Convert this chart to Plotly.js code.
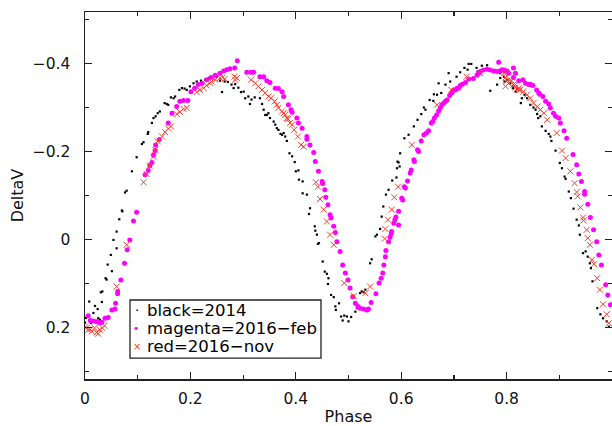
<!DOCTYPE html>
<html>
<head>
<meta charset="utf-8">
<script src="https://cdn.plot.ly/plotly-3.0.1.min.js"></script>
<style>html,body{margin:0;padding:0;background:#fff}#chart{width:612px;height:426px}</style>
</head>
<body>
<div id="chart"></div>
<script>
// black = 2014
const phase2014 = [0.000,0.002,0.008,0.011,0.016,0.019,0.024,0.025,0.028,0.030,0.032,0.033,0.039,0.041,0.043,0.049,0.051,0.054,0.060,0.060,0.065,0.070,0.071,0.076,0.079,0.089,0.098,0.108,0.111,0.119,0.120,0.127,0.130,0.134,0.138,0.142,0.151,0.155,0.158,0.163,0.168,0.171,0.179,0.184,0.189,0.193,0.199,0.206,0.212,0.220,0.228,0.235,0.241,0.246,0.250,0.256,0.260,0.265,0.271,0.278,0.282,0.285,0.291,0.296,0.301,0.304,0.310,0.313,0.316,0.322,0.332,0.336,0.339,0.342,0.345,0.348,0.351,0.358,0.361,0.364,0.367,0.371,0.374,0.377,0.380,0.383,0.388,0.393,0.398,0.400,0.405,0.406,0.413,0.413,0.421,0.425,0.427,0.436,0.437,0.440,0.442,0.444,0.451,0.455,0.459,0.461,0.462,0.467,0.472,0.475,0.476,0.482,0.486,0.489,0.492,0.497,0.500,0.505,0.513,0.516,0.522,0.525,0.529,0.532,0.541,0.544,0.551,0.554,0.560,0.563,0.566,0.571,0.576,0.583,0.591,0.592,0.593,0.595,0.597,0.598,0.606,0.614,0.624,0.631,0.638,0.643,0.646,0.654,0.661,0.662,0.668,0.671,0.676,0.684,0.690,0.693,0.705,0.712,0.720,0.726,0.728,0.733,0.743,0.745,0.753,0.763,0.769,0.782,0.788,0.788,0.795,0.796,0.801,0.807,0.812,0.813,0.817,0.820,0.827,0.829,0.834,0.839,0.845,0.851,0.855,0.858,0.860,0.864,0.867,0.874,0.880,0.883,0.885,0.893,0.901,0.905,0.910,0.912,0.918,0.922,0.927,0.933,0.937,0.939,0.945,0.950,0.954,0.958,0.960,0.963,0.972,0.978,0.983,0.990,0.994];
const dv2014 = [0.189,0.178,0.141,0.190,0.167,0.151,0.158,0.179,0.182,0.120,0.142,0.118,0.088,0.091,0.057,0.035,0.072,0.001,0.020,-0.018,-0.046,-0.066,-0.064,-0.107,-0.111,-0.155,-0.187,-0.217,-0.221,-0.240,-0.244,-0.265,-0.276,-0.280,-0.287,-0.291,-0.310,-0.308,-0.306,-0.323,-0.321,-0.325,-0.340,-0.344,-0.343,-0.340,-0.348,-0.355,-0.359,-0.361,-0.363,-0.367,-0.368,-0.373,-0.370,-0.361,-0.335,-0.359,-0.358,-0.352,-0.344,-0.353,-0.345,-0.335,-0.336,-0.321,-0.325,-0.308,-0.318,-0.323,-0.321,-0.308,-0.295,-0.283,-0.283,-0.287,-0.276,-0.268,-0.261,-0.253,-0.249,-0.240,-0.238,-0.242,-0.234,-0.224,-0.196,-0.189,-0.176,-0.155,-0.157,-0.136,-0.132,-0.105,-0.102,-0.058,-0.071,-0.030,-0.020,-0.011,0.010,0.008,0.050,0.073,0.078,0.101,0.088,0.126,0.131,0.152,0.160,0.145,0.175,0.184,0.173,0.175,0.186,0.176,0.164,0.156,0.122,0.118,0.120,0.114,0.054,0.045,-0.007,-0.011,-0.024,-0.052,-0.075,-0.102,-0.113,-0.134,-0.141,-0.162,-0.177,-0.175,-0.166,-0.196,-0.230,-0.238,-0.257,-0.272,-0.285,-0.300,-0.295,-0.317,-0.315,-0.330,-0.329,-0.355,-0.333,-0.352,-0.378,-0.359,-0.370,-0.380,-0.390,-0.386,-0.399,-0.399,-0.390,-0.382,-0.395,-0.396,-0.338,-0.352,-0.378,-0.367,-0.370,-0.359,-0.363,-0.355,-0.344,-0.348,-0.336,-0.342,-0.310,-0.321,-0.329,-0.321,-0.306,-0.300,-0.295,-0.285,-0.276,-0.280,-0.257,-0.247,-0.240,-0.234,-0.224,-0.202,-0.174,-0.162,-0.143,-0.138,-0.109,-0.094,-0.070,-0.045,-0.032,-0.011,0.031,0.027,0.039,0.054,0.065,0.095,0.156,0.170,0.179,0.186,0.198];

// magenta = 2016-feb
const phaseFeb = [0.006,0.010,0.016,0.022,0.028,0.032,0.038,0.044,0.051,0.057,0.058,0.062,0.062,0.068,0.075,0.080,0.085,0.092,0.098,0.114,0.120,0.123,0.127,0.130,0.133,0.134,0.141,0.158,0.165,0.174,0.180,0.187,0.195,0.201,0.208,0.215,0.222,0.231,0.239,0.247,0.256,0.263,0.269,0.275,0.284,0.289,0.307,0.315,0.320,0.332,0.339,0.345,0.351,0.361,0.367,0.374,0.377,0.386,0.391,0.393,0.402,0.405,0.412,0.421,0.421,0.427,0.434,0.437,0.443,0.450,0.451,0.455,0.457,0.461,0.465,0.467,0.472,0.475,0.478,0.484,0.489,0.494,0.499,0.503,0.508,0.513,0.518,0.522,0.529,0.535,0.538,0.543,0.552,0.558,0.562,0.565,0.567,0.570,0.571,0.576,0.579,0.581,0.582,0.586,0.588,0.590,0.595,0.595,0.601,0.603,0.606,0.608,0.612,0.617,0.619,0.624,0.625,0.631,0.633,0.638,0.643,0.648,0.652,0.657,0.660,0.663,0.667,0.671,0.674,0.677,0.681,0.684,0.687,0.692,0.696,0.699,0.703,0.706,0.709,0.712,0.716,0.722,0.728,0.737,0.744,0.747,0.750,0.756,0.763,0.769,0.776,0.782,0.785,0.788,0.791,0.795,0.798,0.801,0.804,0.813,0.813,0.817,0.823,0.831,0.836,0.842,0.845,0.850,0.857,0.861,0.863,0.869,0.874,0.880,0.883,0.889,0.893,0.899,0.902,0.909,0.914,0.926,0.933,0.937,0.942,0.948,0.948,0.954,0.959,0.965,0.971,0.975,0.980,0.988,0.992,0.997];
const dvFeb = [0.173,0.184,0.185,0.187,0.189,0.188,0.179,0.177,0.160,0.158,0.145,0.118,0.123,0.092,0.054,0.023,0.001,-0.042,-0.062,-0.147,-0.157,-0.168,-0.175,-0.192,-0.202,-0.215,-0.227,-0.265,-0.287,-0.302,-0.314,-0.316,-0.316,-0.336,-0.344,-0.352,-0.355,-0.363,-0.368,-0.373,-0.378,-0.383,-0.386,-0.388,-0.390,-0.406,-0.380,-0.380,-0.380,-0.370,-0.370,-0.361,-0.357,-0.344,-0.343,-0.336,-0.325,-0.306,-0.295,-0.289,-0.276,-0.265,-0.253,-0.234,-0.228,-0.215,-0.198,-0.177,-0.155,-0.132,-0.127,-0.113,-0.096,-0.079,-0.056,-0.049,-0.030,-0.016,0.005,0.027,0.058,0.076,0.092,0.110,0.130,0.145,0.152,0.156,0.158,0.160,0.158,0.143,0.123,0.099,0.088,0.076,0.058,0.039,0.025,0.005,-0.005,-0.013,-0.018,-0.037,-0.045,-0.051,-0.033,-0.064,-0.094,-0.090,-0.120,-0.117,-0.133,-0.151,-0.158,-0.181,-0.177,-0.204,-0.200,-0.224,-0.238,-0.242,-0.247,-0.265,-0.268,-0.276,-0.283,-0.292,-0.299,-0.306,-0.310,-0.314,-0.317,-0.327,-0.333,-0.339,-0.340,-0.344,-0.344,-0.350,-0.353,-0.357,-0.365,-0.366,-0.374,-0.378,-0.382,-0.385,-0.387,-0.385,-0.383,-0.382,-0.403,-0.383,-0.386,-0.385,-0.383,-0.383,-0.378,-0.390,-0.368,-0.378,-0.361,-0.363,-0.355,-0.352,-0.353,-0.350,-0.340,-0.333,-0.330,-0.325,-0.314,-0.308,-0.299,-0.287,-0.280,-0.276,-0.265,-0.247,-0.230,-0.193,-0.170,-0.149,-0.132,-0.109,-0.103,-0.080,-0.050,-0.022,0.005,0.035,0.058,0.103,0.126,0.148];

// red = 2016-nov
const phaseNov = [0.000,0.003,0.006,0.010,0.013,0.018,0.022,0.025,0.028,0.033,0.037,0.060,0.079,0.111,0.117,0.123,0.130,0.133,0.138,0.146,0.152,0.158,0.163,0.174,0.180,0.187,0.193,0.212,0.218,0.225,0.231,0.237,0.240,0.247,0.256,0.261,0.265,0.284,0.285,0.288,0.315,0.323,0.329,0.336,0.342,0.348,0.353,0.360,0.364,0.367,0.374,0.377,0.380,0.383,0.385,0.389,0.393,0.397,0.404,0.410,0.415,0.438,0.442,0.446,0.453,0.459,0.465,0.472,0.492,0.510,0.532,0.541,0.569,0.570,0.575,0.582,0.587,0.594,0.620,0.668,0.695,0.724,0.750,0.795,0.798,0.798,0.801,0.804,0.807,0.808,0.813,0.817,0.817,0.823,0.823,0.826,0.832,0.839,0.845,0.851,0.858,0.864,0.871,0.877,0.895,0.905,0.912,0.921,0.929,0.933,0.935,0.940,0.945,0.946,0.952,0.954,0.958,0.962,0.966,0.972,0.977,0.983,0.990,0.994];
const dvNov = [0.198,0.201,0.205,0.204,0.209,0.201,0.211,0.214,0.205,0.201,0.196,0.107,0.012,-0.130,-0.149,-0.168,-0.188,-0.204,-0.223,-0.234,-0.244,-0.252,-0.257,-0.285,-0.290,-0.297,-0.299,-0.335,-0.340,-0.344,-0.350,-0.355,-0.359,-0.363,-0.367,-0.368,-0.365,-0.370,-0.363,-0.367,-0.363,-0.355,-0.348,-0.340,-0.333,-0.325,-0.321,-0.314,-0.306,-0.299,-0.291,-0.287,-0.283,-0.276,-0.274,-0.265,-0.261,-0.249,-0.234,-0.215,-0.211,-0.130,-0.120,-0.092,-0.068,-0.041,-0.011,0.012,0.099,0.128,0.122,0.107,-0.002,-0.024,-0.045,-0.068,-0.096,-0.120,-0.215,-0.306,-0.340,-0.370,-0.378,-0.378,-0.368,-0.348,-0.361,-0.355,-0.363,-0.359,-0.352,-0.345,-0.352,-0.340,-0.344,-0.340,-0.336,-0.329,-0.321,-0.310,-0.302,-0.295,-0.287,-0.272,-0.242,-0.202,-0.185,-0.155,-0.128,-0.108,-0.098,-0.073,-0.050,-0.043,-0.022,-0.003,0.012,0.046,0.056,0.088,0.114,0.147,0.170,0.190];

const seriesNames = ['black=2014', 'magenta=2016\u2212feb', 'red=2016\u2212nov'];
const seriesColors = ['#000000', '#ff00ff', '#ff3a2a'];
const legendGlyphs = ['\u00b7', '\u2022', '\u00d7'];
const xTicks = [0, 0.2, 0.4, 0.6, 0.8, 1];
const xTickText = ['0', '0.2', '0.4', '0.6', '0.8', '1'];
const yTicks = [-0.4, -0.2, 0, 0.2];
const yTickText = ['\u22120.4', '\u22120.2', '0', '0.2'];

const FONT = 'DejaVu Sans, sans-serif';

const traces = [
  {x: phase2014, y: dv2014, name: seriesNames[0], type: 'scatter', mode: 'markers',
   marker: {symbol: 'square', size: 2.2, color: seriesColors[0]}},
  {x: phaseFeb, y: dvFeb, name: seriesNames[1], type: 'scatter', mode: 'markers',
   marker: {symbol: 'circle', size: 5, color: seriesColors[1]}},
  {x: phaseNov, y: dvNov, name: seriesNames[2], type: 'scatter', mode: 'markers',
   marker: {symbol: 'x-thin', size: 6, color: seriesColors[2], line: {color: seriesColors[2], width: 1}}}
];

// boxed legend in the lower left of the plot (paper coordinates)
const legBox = {x0: 0.0854, x1: 0.4478, y0: 0.057, y1: 0.2153};
const legRowY = [0.1861, 0.1381, 0.0880];
const legSymX = 0.0981, legTextX = 0.1135;
const annotations = [];
seriesNames.forEach((nm, i) => {
  annotations.push({xref: 'paper', yref: 'paper', x: legSymX, y: legRowY[i], xanchor: 'center', yanchor: 'middle',
    text: legendGlyphs[i], showarrow: false,
    font: {family: FONT, size: i === 0 ? 13 : (i === 1 ? 11 : 10), color: seriesColors[i]}});
  annotations.push({xref: 'paper', yref: 'paper', x: legTextX, y: legRowY[i], xanchor: 'left', yanchor: 'middle',
    text: nm, showarrow: false, font: {family: FONT, size: 16.5, color: '#000'}});
});

const axisCommon = {
  showgrid: false, zeroline: false, showline: true, mirror: 'ticks',
  linecolor: '#222', linewidth: 1.5,
  ticks: 'inside', ticklen: 7, tickwidth: 1.2, tickcolor: '#222',
  tickfont: {family: FONT, size: 15.5, color: '#111'}
};

const layout = {
  width: 612, height: 426,
  margin: {l: 85, r: 0, t: 12, b: 47, pad: 0},
  paper_bgcolor: '#ffffff', plot_bgcolor: '#ffffff',
  font: {family: FONT, color: '#000'},
  showlegend: false,
  shapes: [{type: 'rect', xref: 'paper', yref: 'paper', x0: legBox.x0, x1: legBox.x1, y0: legBox.y0, y1: legBox.y1,
    line: {color: '#222', width: 1.3}, fillcolor: 'rgba(255,255,255,0)'}],
  annotations: annotations,
  xaxis: Object.assign({}, axisCommon, {
    range: [0, 1], tickvals: xTicks, ticktext: xTickText,
    minor: {dtick: 0.1, tick0: 0, ticks: 'inside', ticklen: 4, tickcolor: '#222', tickwidth: 1.2},
    ticklabelstandoff: 5,
    title: {text: 'Phase', font: {family: FONT, size: 16, color: '#111'}, standoff: 6}
  }),
  yaxis: Object.assign({}, axisCommon, {
    range: [0.317, -0.517], tickvals: yTicks, ticktext: yTickText,
    minor: {dtick: 0.1, tick0: 0, ticks: 'inside', ticklen: 4, tickcolor: '#222', tickwidth: 1.2},
    ticklabelstandoff: 10,
    title: {text: 'DeltaV', font: {family: FONT, size: 16, color: '#111'}, standoff: 5}
  })
};

Plotly.newPlot('chart', traces, layout, {displayModeBar: false, staticPlot: true});
</script>
</body>
</html>
